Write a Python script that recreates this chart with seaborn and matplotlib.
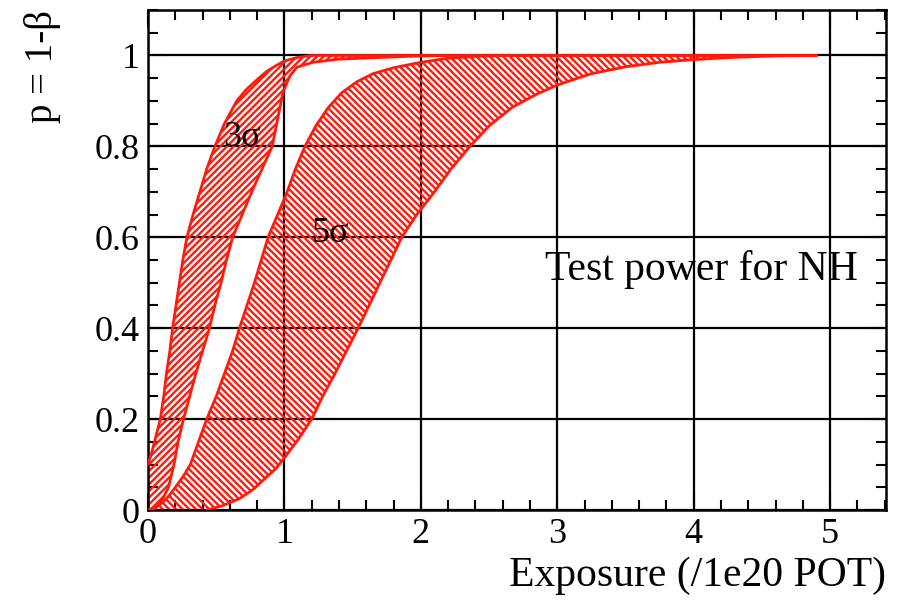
import matplotlib
matplotlib.use("Agg")
import matplotlib.pyplot as plt
import seaborn as sns
import pandas as pd

# Test power bands (p = 1 - beta) versus exposure in units of 1e20 POT
sig3_upper_x = [0.0, 0.03, 0.06, 0.09, 0.115, 0.135, 0.16, 0.18, 0.205, 0.23, 0.255, 0.285,
                0.33, 0.38, 0.43, 0.49, 0.56, 0.65, 0.72, 0.80, 0.87, 0.94, 1.0, 1.1, 1.2, 4.9]
sig3_upper_p = [0.10, 0.13, 0.165, 0.20, 0.25, 0.30, 0.35, 0.40, 0.45, 0.50, 0.55, 0.60,
                0.65, 0.70, 0.75, 0.80, 0.85, 0.90, 0.925, 0.947, 0.965, 0.978, 0.988, 0.996, 1.0, 1.0]

sig3_lower_x = [0.0, 0.05, 0.10, 0.15, 0.19, 0.22, 0.26, 0.305, 0.35, 0.40, 0.45, 0.49, 0.535,
                0.575, 0.62, 0.69, 0.76, 0.835, 0.91, 0.95, 0.99, 1.04, 1.09, 1.21, 1.4, 1.65, 1.9, 2.2, 4.9]
sig3_lower_p = [0.0, 0.005, 0.02, 0.05, 0.10, 0.15, 0.20, 0.25, 0.30, 0.35, 0.40, 0.45, 0.50,
                0.55, 0.60, 0.65, 0.70, 0.75, 0.80, 0.86, 0.92, 0.955, 0.974, 0.985, 0.992, 0.995, 0.998, 1.0, 1.0]

sig5_upper_x = [0.03, 0.10, 0.15, 0.20, 0.26, 0.31, 0.37, 0.43, 0.50, 0.56, 0.62, 0.67, 0.725,
                0.78, 0.83, 0.88, 0.95, 1.02, 1.08, 1.15, 1.23, 1.32, 1.42, 1.53, 1.65, 1.8,
                2.0, 2.2, 2.4, 2.6, 4.9]
sig5_upper_p = [0.0, 0.015, 0.03, 0.05, 0.075, 0.10, 0.15, 0.20, 0.25, 0.30, 0.35, 0.40, 0.45,
                0.50, 0.55, 0.60, 0.65, 0.70, 0.75, 0.80, 0.845, 0.885, 0.918, 0.942, 0.96, 0.973,
                0.985, 0.994, 0.998, 1.0, 1.0]

sig5_lower_x = [0.43, 0.55, 0.67, 0.77, 0.87, 0.94, 1.0, 1.1, 1.2, 1.28, 1.37, 1.455, 1.54,
                1.62, 1.70, 1.78, 1.86, 1.97, 2.10, 2.22, 2.36, 2.5, 2.67, 2.85, 3.0, 3.25,
                3.5, 3.75, 4.0, 4.3, 4.6, 4.9]
sig5_lower_p = [0.0, 0.01, 0.025, 0.045, 0.073, 0.092, 0.115, 0.155, 0.20, 0.25, 0.30, 0.35, 0.40,
                0.45, 0.50, 0.55, 0.60, 0.65, 0.70, 0.75, 0.80, 0.845, 0.886, 0.915, 0.935, 0.96,
                0.975, 0.985, 0.991, 0.996, 0.999, 1.0]

x_ticks = [0, 1, 2, 3, 4, 5]
y_ticks = [0, 0.2, 0.4, 0.6, 0.8, 1.0]
y_tick_labels = ["0", "0.2", "0.4", "0.6", "0.8", "1"]

sns.set_theme(style="white")
plt.rcParams["font.family"] = ["Liberation Serif", "DejaVu Serif"]
plt.rcParams["hatch.linewidth"] = 1.7
plt.rcParams["text.color"] = "black"
plt.rcParams["axes.labelcolor"] = "black"

fig = plt.figure(figsize=(9.06, 6.03), dpi=100)
ax = fig.add_axes([0.1634, 0.1542, 0.8146, 0.8292])

red = "#ff1a0d"


def band(ux, up, lx, lp, hatch):
    xs = list(ux) + list(reversed(lx))
    ps = list(up) + list(reversed(lp))
    ax.fill(xs, ps, facecolor="none", edgecolor=red, hatch=hatch, linewidth=0, zorder=2)
    edges = pd.concat([
        pd.DataFrame({"x": ux, "p": up, "edge": "upper"}),
        pd.DataFrame({"x": lx, "p": lp, "edge": "lower"}),
    ])
    sns.lineplot(data=edges, x="x", y="p", units="edge", estimator=None, sort=False,
                 color=red, linewidth=2.0, ax=ax, zorder=3)


band(sig3_upper_x, sig3_upper_p, sig3_lower_x, sig3_lower_p, "/////")
band(sig5_upper_x, sig5_upper_p, sig5_lower_x, sig5_lower_p, "\\\\\\\\\\")

ax.set_xlim(0, 5.41)
ax.set_ylim(0, 1.1)
ax.set_xticks(x_ticks)
ax.set_xticklabels([str(t) for t in x_ticks])
ax.set_yticks(y_ticks)
ax.set_yticklabels(y_tick_labels)
ax.set_xticks([i * 0.2 for i in range(28)], minor=True)
ax.set_yticks([i * 0.05 for i in range(23)], minor=True)

ax.set_axisbelow(True)
ax.grid(True, which="major", color="black", linewidth=1.6)
ax.tick_params(which="both", direction="in", top=True, right=True, bottom=True, left=True,
               colors="black", labelsize=26, width=1.5, labelcolor="black")
ax.tick_params(which="major", length=12, pad=6)
ax.tick_params(which="minor", length=7)
for s in ax.spines.values():
    s.set_color("black")
    s.set_linewidth(1.8)

ax.set_xlabel("Exposure (/1e20 POT)", fontsize=30, loc="right", labelpad=4)
ax.set_ylabel("p = 1-β", fontsize=28, loc="top", labelpad=24)

ax.text(0.55, 0.8, "3σ", fontsize=26, ha="left", va="baseline", zorder=4)
ax.text(1.2, 0.59, "5σ", fontsize=26, ha="left", va="baseline", zorder=4)
ax.text(2.91, 0.53, "Test power for NH", fontsize=30, ha="left", va="center", zorder=4)

fig.savefig("out.png", dpi=100)
